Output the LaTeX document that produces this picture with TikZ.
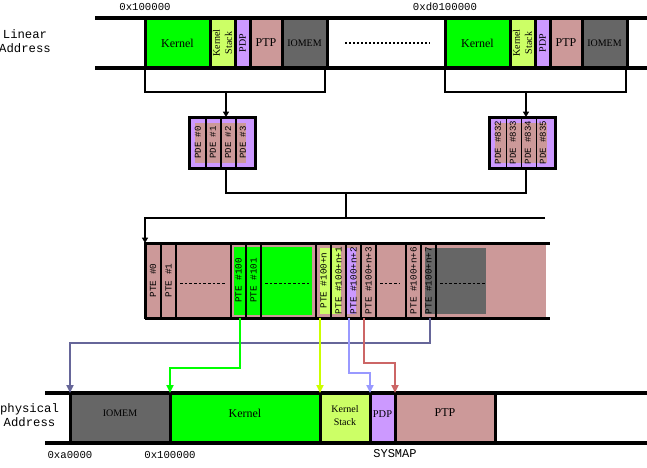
\documentclass[tikz,border=0pt]{standalone}
\usepackage{fontspec}
\setmainfont{Liberation Serif}
\newfontfamily\monof{Liberation Mono}
\usetikzlibrary{arrows.meta,calc}
\definecolor{kgreen}{HTML}{00FF00}
\definecolor{kstack}{HTML}{CCFF66}
\definecolor{pdpc}{HTML}{CC99FF}
\definecolor{ptpc}{HTML}{CC9999}
\definecolor{iomemc}{HTML}{666666}
\definecolor{cblue}{HTML}{666699}
\definecolor{cyellow}{HTML}{CCFF00}
\definecolor{cpurple}{HTML}{9999FF}
\definecolor{cred}{HTML}{CC6666}
\begin{document}
\begin{tikzpicture}[x=0.75pt,y=-0.75pt,
  cell/.style={draw, line width=2.25pt, inner sep=0pt, outer sep=0pt, anchor=north west, minimum height=37.5pt},
  pdebox/.style={draw, line width=2.25pt, fill=pdpc, inner sep=0pt, outer sep=0pt, anchor=north west, minimum width=49.5pt, minimum height=38.25pt},
  pcol/.style={draw, line width=1.1pt, inner sep=0pt, outer sep=0pt, anchor=north west, minimum width=11.25pt, minimum height=56.25pt},
  band/.style={line width=3pt},
  tband/.style={line width=2.25pt},
  bracket/.style={line width=1pt},
  btip/.style={-{Triangle[width=4.5pt,length=4pt]}},
  conn/.style={line width=1.5pt, -{Triangle[width=5.25pt,length=6pt]}},
  bigdots/.style={line width=1.5pt, dash pattern=on 1.5pt off 1.5pt},
  thindots/.style={line width=0.75pt, dash pattern=on 2pt off 1.5pt},
  addr/.style={font=\monof\fontsize{8}{9}\selectfont, inner sep=0pt},
  side/.style={font=\monof\fontsize{9.2}{10.5}\selectfont, align=center, inner sep=0pt},
  btxt/.style={font=\fontsize{9}{10}\selectfont, inner sep=0pt},
  stxt/.style={font=\fontsize{7.5}{9}\selectfont, inner sep=0pt, align=center},
  rtxt/.style={font=\fontsize{7.5}{9}\selectfont, inner sep=0pt, align=center, rotate=90},
  ptelbl/.style={font=\monof\fontsize{7}{8}\selectfont, inner sep=0pt, rotate=90},
  pdelbl/.style={font=\monof\fontsize{6.8}{8}\selectfont, inner sep=0pt, rotate=90}
]
\useasboundingbox (0,0) rectangle (647,468);

% ---------- Linear address band ----------
\node[side] (linlbl) at (25,41) {Linear\\Address};
\node[addr] (a1) at (145,7) {0x100000};
\node[addr] (a2) at (445,7) {0xd0100000};

\node[cell, fill=kgreen, minimum width=48.75pt, btxt] (k1) at (145,18) {Kernel};
\node[cell, fill=kstack, minimum width=18.75pt] (ks1) at (210,18) {};
\node[cell, fill=pdpc, minimum width=11.25pt] (pdp1) at (235,18) {};
\node[cell, fill=ptpc, minimum width=24pt, btxt] (ptp1) at (250,18) {PTP};
\node[cell, fill=iomemc, minimum width=33.75pt, stxt] (io1) at (282,18) {IOMEM};
\node[cell, fill=white, minimum width=88.5pt] (gap) at (327,18) {};
\node[cell, fill=kgreen, minimum width=48.75pt, btxt] (k2) at (445,18) {Kernel};
\node[cell, fill=kstack, minimum width=18.75pt] (ks2) at (510,18) {};
\node[cell, fill=pdpc, minimum width=11.25pt] (pdp2) at (535,18) {};
\node[cell, fill=ptpc, minimum width=24pt, btxt] (ptp2) at (550,18) {PTP};
\node[cell, fill=iomemc, minimum width=33.75pt, stxt] (io2) at (582,18) {IOMEM};

\node[rtxt] (ks1t) at (ks1.center) {Kernel\\Stack};
\node[rtxt] (pdp1t) at (pdp1.center) {PDP};
\node[rtxt] (ks2t) at (ks2.center) {Kernel\\Stack};
\node[rtxt] (pdp2t) at (pdp2.center) {PDP};
\draw[bigdots] ($(gap.west)+(18,0)$) -- ($(gap.east)+(-15,0)$);

\draw[band] (95,18) -- (647,18);
\draw[band] (95,68) -- (647,68);

% ---------- PDE boxes ----------
\node[pdebox] (pde1) at (189,117) {};
\node[pdebox] (pde2) at (489.5,117) {};
\fill[ptpc] ($(pde1.north west)+(6,6)$) rectangle ($(pde1.south east)+(-9,-5)$);
\fill[ptpc] ($(pde2.north west)+(5,6)$) rectangle ($(pde2.south east)+(-9,-5)$);
\foreach \d in {17,32,47}{
  \draw[line width=0.9pt] ($(pde1.north west)+(\d,0)$) -- ($(pde1.south west)+(\d,0)$);
  \draw[line width=0.9pt] ($(pde2.north west)+(\d,0)$) -- ($(pde2.south west)+(\d,0)$);
}
\node[pdelbl] (pd0) at ($(pde1.west)+(9,0)$) {PDE \#0};
\node[pdelbl] (pd1) at ($(pde1.west)+(24,0)$) {PDE \#1};
\node[pdelbl] (pd2) at ($(pde1.west)+(39,0)$) {PDE \#2};
\node[pdelbl] (pd3) at ($(pde1.west)+(54,0)$) {PDE \#3};
\node[pdelbl] (pd832) at ($(pde2.west)+(8.5,0)$) {PDE \#832};
\node[pdelbl] (pd833) at ($(pde2.west)+(23.5,0)$) {PDE \#833};
\node[pdelbl] (pd834) at ($(pde2.west)+(38.5,0)$) {PDE \#834};
\node[pdelbl] (pd835) at ($(pde2.west)+(53.5,0)$) {PDE \#835};
\draw[line width=2.25pt] (pde1.north west) rectangle (pde1.south east);
\draw[line width=2.25pt] (pde2.north west) rectangle (pde2.south east);

% brackets from linear band to PDE
\draw[bracket] (k1.south west) -- ++(0,24) -| ($(io1.south east)+(-2,0)$);
\draw[bracket, btip] ($(pde1.north)+(4,-25)$) -- ($(pde1.north)+(4,0)$);
\draw[bracket] (k2.south west) -- ++(0,24) -| ($(io2.south east)+(-1,0)$);
\draw[bracket, btip] ($(pde2.north)+(3.5,-25)$) -- ($(pde2.north)+(3.5,0)$);

% ---------- PTE table ----------
\node[fill=ptpc, inner sep=0pt, outer sep=0pt, anchor=north west, minimum width=300.75pt, minimum height=56.25pt] (ptab) at (145,243) {};
\fill[kgreen] (234,247) rectangle (312,315);
\fill[kstack] (320,248) rectangle (341,314);
\fill[pdpc] (346,248) rectangle (356,314);
\fill[iomemc] (425,248) rectangle (486,314);

\node[pcol, minimum width=12pt] (c0) at (145,243) {};
\node[pcol] (c1) at (161,243) {};
\node[pcol] (c100) at (231,243) {};
\node[pcol] (c101) at (246,243) {};
\node[pcol] (cn) at (316,243) {};
\node[pcol] (cn1) at (331,243) {};
\node[pcol] (cn2) at (346,243) {};
\node[pcol] (cn3) at (361,243) {};
\node[pcol] (cn6) at (406,243) {};
\node[pcol] (cn7) at (421,243) {};

\node[ptelbl] (pte0) at (c0.center) {PTE \#0};
\node[ptelbl] (pte1) at (c1.center) {PTE \#1};
\node[ptelbl] (pte100) at (c100.center) {PTE \#100};
\node[ptelbl] (pte101) at (c101.center) {PTE \#101};
\node[ptelbl] (pten) at (cn.center) {PTE \#100+n};
\node[ptelbl] (pten1) at (cn1.center) {PTE \#100+n+1};
\node[ptelbl] (pten2) at (cn2.center) {PTE \#100+n+2};
\node[ptelbl] (pten3) at (cn3.center) {PTE \#100+n+3};
\node[ptelbl] (pten6) at (cn6.center) {PTE \#100+n+6};
\node[ptelbl] (pten7) at (cn7.center) {PTE \#100+n+7};

\draw[thindots] (180,283) -- (226,283);
\draw[thindots] (265,283) -- (309,283);
\draw[thindots] (380,283) -- (399,283);
\draw[thindots] (440,283) -- (485,283);

\draw[tband] (ptab.north west) -- ++(405,0);
\draw[tband] (ptab.south west) -- ++(405,0);
\draw[tband] (ptab.north west) -- (ptab.south west);

% PDE to PTE connectors
\draw[bracket] ($(pde1.south)+(4,0)$) |- ($(pde2.south)+(3.5,25)$) -- ($(pde2.south)+(3.5,0)$);
\draw[bracket] ($(ptab.north west)+(201,-50)$) -- ++(0,25);
\draw[bracket, btip] ($(ptab.north west)+(400,-25)$) -| (ptab.north west);

% ---------- Physical address band ----------
\node[side] (physlbl) at (29.5,415.5) {physical\\Address};
\node[cell, fill=iomemc, minimum width=75pt] (pio) at (70,393) {};
\node[cell, fill=kgreen, minimum width=112.5pt] (pk) at (170,393) {};
\node[cell, fill=kstack, minimum width=37.5pt] (pks) at (320,393) {};
\node[cell, fill=pdpc, minimum width=18.75pt] (ppdp) at (370,393) {};
\node[cell, fill=ptpc, minimum width=75pt] (pptp) at (395,393) {};
\node[stxt] (piot) at ($(pio.center)+(0,-5)$) {IOMEM};
\node[btxt] (pkt) at ($(pk.center)+(0,-5)$) {Kernel};
\node[stxt, font=\fontsize{7.5}{9.5}\selectfont] (pkst) at ($(pks.center)+(0,-2.5)$) {Kernel\\Stack};
\node[stxt, font=\fontsize{7.8}{9}\selectfont] (ppdpt) at ($(ppdp.center)+(0,-4)$) {PDP};
\node[btxt] (pptpt) at ($(pptp.center)+(0,-5)$) {PTP};
\draw[band] (45,393) -- (647,393);
\draw[band] (45,443) -- (647,443);

\node[addr] (b1) at (70,455) {0xa0000};
\node[addr] (b2) at (170,455) {0x100000};
\node[addr, font=\monof\fontsize{9}{10}\selectfont] (b3) at (395,454) {SYSMAP};

% ---------- PTE to physical connectors ----------
\draw[conn, cblue] ($(cn7.south)+(1.5,0)$) -- ++(0,25) -| (pio.north west);
\draw[conn, kgreen] ($(c100.south)+(1.5,0)$) -- ++(0,50) -| (pk.north west);
\draw[conn, cyellow] ($(cn.south)+(-3.5,0)$) -- (pks.north west);
\draw[conn, cpurple] ($(cn2.south)+(-4.5,0)$) -- ++(0,55) -| (ppdp.north west);
\draw[conn, cred] ($(cn3.south)+(-4.5,0)$) -- ++(0,45) -| (pptp.north west);
\end{tikzpicture}
\end{document}
